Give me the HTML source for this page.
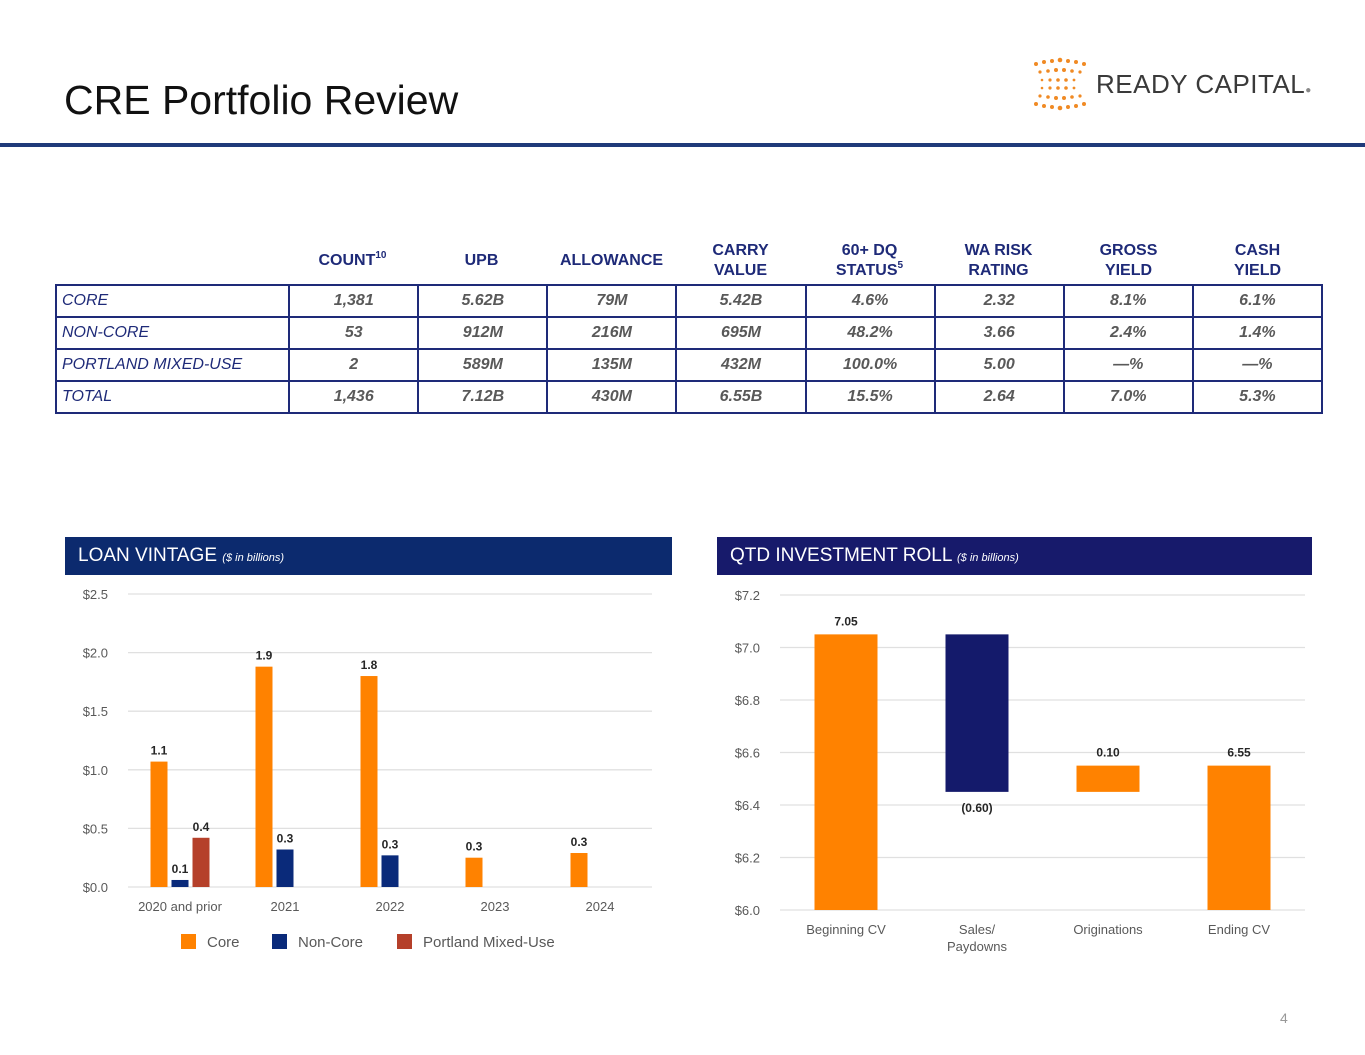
<!DOCTYPE html>
<html><head><meta charset="utf-8"><style>
body{margin:0;width:1365px;height:1055px;background:#fff;font-family:"Liberation Sans",Arial,sans-serif;position:relative;overflow:hidden}
.abs{position:absolute}
table{border-collapse:collapse;position:absolute;left:55px;top:284px;width:1268px}
td{border:2px solid #1e2a78;height:30px;font-size:16px;font-style:italic;font-weight:bold;color:#595959;text-align:center;padding:0}
td.l{text-align:left;font-weight:normal;color:#1e2a78;padding-left:5px}
.h{position:absolute;top:241px;width:129px;text-align:center;color:#1e2a78;font-weight:bold;font-size:16px;line-height:20px}
.h sup{font-size:10px;line-height:0;vertical-align:0;position:relative;top:-7px}
.band{position:absolute;top:537px;height:38px;color:#fff;font-size:19px;line-height:38px;padding-left:13px;box-sizing:border-box}
.band i{font-size:11px}
</style></head><body>
<div class="abs" style="left:64px;top:77px;font-size:41px;color:#111">CRE Portfolio Review</div>
<div class="abs" style="left:1030px;top:56px;width:290px;height:56px">
<svg width="60" height="56">
<g fill="#f08a24">
<circle cx="6" cy="8" r="2"/><circle cx="14" cy="6" r="2"/><circle cx="22" cy="5" r="2"/><circle cx="30" cy="4" r="2.3"/><circle cx="38" cy="5" r="2"/><circle cx="46" cy="6" r="2"/><circle cx="54" cy="8" r="2"/>
<circle cx="10" cy="16" r="1.6"/><circle cx="18" cy="15" r="1.8"/><circle cx="26" cy="14" r="2"/><circle cx="34" cy="14" r="2"/><circle cx="42" cy="15" r="1.8"/><circle cx="50" cy="16" r="1.6"/>
<circle cx="12" cy="24" r="1.3"/><circle cx="20" cy="24" r="1.6"/><circle cx="28" cy="24" r="1.8"/><circle cx="36" cy="24" r="1.8"/><circle cx="44" cy="24" r="1.4"/>
<circle cx="12" cy="32" r="1.3"/><circle cx="20" cy="32" r="1.6"/><circle cx="28" cy="32" r="1.8"/><circle cx="36" cy="32" r="1.8"/><circle cx="44" cy="32" r="1.4"/>
<circle cx="10" cy="40" r="1.6"/><circle cx="18" cy="41" r="1.8"/><circle cx="26" cy="42" r="2"/><circle cx="34" cy="42" r="2"/><circle cx="42" cy="41" r="1.8"/><circle cx="50" cy="40" r="1.6"/>
<circle cx="6" cy="48" r="2"/><circle cx="14" cy="50" r="2"/><circle cx="22" cy="51" r="2"/><circle cx="30" cy="52" r="2.3"/><circle cx="38" cy="51" r="2"/><circle cx="46" cy="50" r="2"/><circle cx="54" cy="48" r="2"/>
</g></svg>
<div class="abs" style="left:66px;top:13px;font-size:26px;color:#3a3a3a;letter-spacing:0.5px">READY CAPITAL<span style="font-size:10px;color:#888">●</span></div>
</div>
<div class="abs" style="left:0;top:143px;width:1365px;height:4px;background:#1f3a7a"></div>

<div class="h" style="left:288px;top:251px">COUNT<sup>10</sup></div>
<div class="h" style="left:417px;top:251px">UPB</div>
<div class="h" style="left:547px;top:251px">ALLOWANCE</div>
<div class="h" style="left:676px">CARRY<br>VALUE</div>
<div class="h" style="left:805px">60+ DQ<br>STATUS<sup>5</sup></div>
<div class="h" style="left:934px">WA RISK<br>RATING</div>
<div class="h" style="left:1064px">GROSS<br>YIELD</div>
<div class="h" style="left:1193px">CASH<br>YIELD</div>
<table>
<colgroup><col style="width:233px"><col span="8" style="width:129px"></colgroup>
<tr><td class="l">CORE</td><td>1,381</td><td>5.62B</td><td>79M</td><td>5.42B</td><td>4.6%</td><td>2.32</td><td>8.1%</td><td>6.1%</td></tr>
<tr><td class="l">NON-CORE</td><td>53</td><td>912M</td><td>216M</td><td>695M</td><td>48.2%</td><td>3.66</td><td>2.4%</td><td>1.4%</td></tr>
<tr><td class="l">PORTLAND MIXED-USE</td><td>2</td><td>589M</td><td>135M</td><td>432M</td><td>100.0%</td><td>5.00</td><td>—%</td><td>—%</td></tr>
<tr><td class="l">TOTAL</td><td>1,436</td><td>7.12B</td><td>430M</td><td>6.55B</td><td>15.5%</td><td>2.64</td><td>7.0%</td><td>5.3%</td></tr>
</table>

<div class="band" style="left:65px;width:607px;background:#0c2a6e">LOAN VINTAGE <i>($ in billions)</i></div>
<div class="band" style="left:717px;width:595px;background:#171a6b">QTD INVESTMENT ROLL <i>($ in billions)</i></div>

<svg class="abs" id="chart" style="left:0;top:0" width="1365" height="1055"></svg>
<div class="abs" style="left:1280px;top:1010px;font-size:14px;color:#999">4</div>

<script>
const vCats=["2020 and prior","2021","2022","2023","2024"];
const vCore=[1.07,1.88,1.80,0.25,0.29];
const vNonCore=[0.06,0.32,0.27,null,null];
const vPortland=[0.42,null,null,null,null];
const vTicks=[0,0.5,1,1.5,2,2.5];
const rCats=["Beginning CV","Sales/|Paydowns","Originations","Ending CV"];
const rValues=[7.05,-0.60,0.10,6.55];
const rLabels=["7.05","(0.60)","0.10","6.55"];
const rTicks=[6.0,6.2,6.4,6.6,6.8,7.0,7.2];

const svg=document.getElementById('chart');
const NS="http://www.w3.org/2000/svg";
function mk(t,a,p){const e=document.createElementNS(NS,t);for(const k in a)e.setAttribute(k,a[k]);(p||svg).appendChild(e);return e;}
const OR="#ff8200",NV="#0a2a7a",RD="#b5402a";

const ly=v=>887-v*117.2, lx=i=>180+i*105;
vTicks.forEach(t=>{
 const l=mk('line',{x1:128,x2:652,y1:ly(t),y2:ly(t),stroke:'#e0e0e0','stroke-width':1.3});
 
 const tx=mk('text',{x:108,y:ly(t)+5,'text-anchor':'end','font-size':13,fill:'#595959'});tx.textContent='$'+t.toFixed(1);
 
});
vCats.forEach((c,i)=>{
 const tx=mk('text',{x:lx(i),y:911,'text-anchor':'middle','font-size':13,fill:'#595959'});tx.textContent=c;
 
 [[vCore,-21,OR,'core'],[vNonCore,0,NV,'non-core'],[vPortland,21,RD,'portland']].forEach(([arr,off,col,nm])=>{
  const v=arr[i];if(v==null)return;
  const cx=lx(i)+off;
  const r=mk('rect',{x:cx-8.5,y:ly(v),width:17,height:v*117.2,fill:col});
  
  const t=mk('text',{x:cx,y:ly(v)-7,'text-anchor':'middle','font-size':12,'font-weight':'bold',fill:'#262626'});t.textContent=v.toFixed(1);
  
 });
});
[["Core",181,OR],["Non-Core",272,NV],["Portland Mixed-Use",397,RD]].forEach(([n,x,c])=>{
 const r=mk('rect',{x:x,y:934,width:15,height:15,fill:c});
 
 const t=mk('text',{x:x+26,y:947,'font-size':15,fill:'#595959'});t.textContent=n;
 
});

const ry=v=>910-(v-6)*262.5, rx=i=>846+i*131;
rTicks.forEach(t=>{
 const l=mk('line',{x1:780,x2:1305,y1:ry(t),y2:ry(t),stroke:'#e0e0e0','stroke-width':1.3});
 
 const tx=mk('text',{x:760,y:ry(t)+5,'text-anchor':'end','font-size':13,fill:'#595959'});tx.textContent='$'+t.toFixed(1);
 
});
let run=0;
rValues.forEach((v,i)=>{
 let lo,hi,col;
 if(i===0||i===rValues.length-1){lo=6;hi=v;col=OR;run=v;}
 else{const s=run,e=run+v;lo=Math.min(s,e);hi=Math.max(s,e);col=v<0?'#141a6b':OR;run=e;}
 const r=mk('rect',{x:rx(i)-31.5,y:ry(hi),width:63,height:ry(lo)-ry(hi),fill:col});
 
 const ly2=v<0?ry(lo)+20:ry(hi)-9;
 const t=mk('text',{x:rx(i),y:ly2,'text-anchor':'middle','font-size':12,'font-weight':'bold',fill:'#262626'});t.textContent=rLabels[i];
 
 rCats[i].split('|').forEach((p,j)=>{
  const tx=mk('text',{x:rx(i),y:934+j*17,'text-anchor':'middle','font-size':13,fill:'#595959'});tx.textContent=p;
  
 });
});
</script>
</body></html>
